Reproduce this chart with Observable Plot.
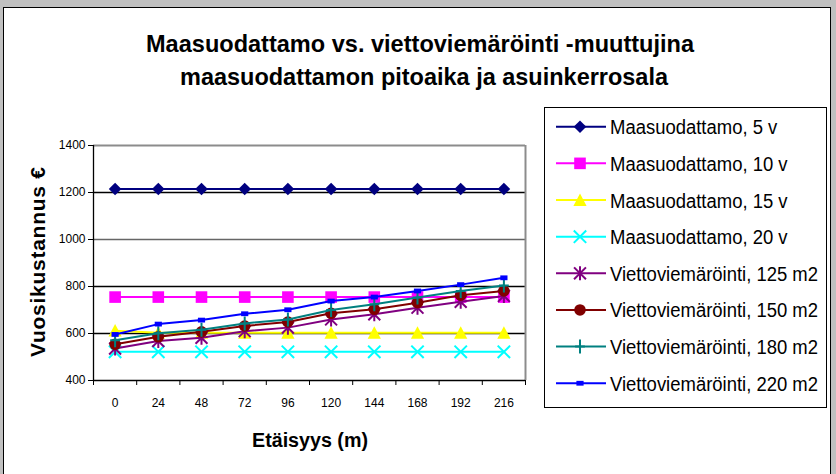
<!DOCTYPE html>
<html><head><meta charset="utf-8">
<script src="https://cdn.jsdelivr.net/npm/d3@7"></script>
<script src="https://cdn.jsdelivr.net/npm/@observablehq/plot@0.6"></script>
<style>
html,body{margin:0;padding:0;background:#c0c0c0;}
#wrap{position:relative;width:836px;height:474px;overflow:hidden;background:#c0c0c0;font-family:"Liberation Sans",Arial,sans-serif;}
#card{position:absolute;left:3px;top:7px;width:828px;height:480px;background:#fff;border:1px solid #000;box-sizing:border-box;}
#chart,#overlay{position:absolute;left:0;top:0;}
</style></head>
<body>
<div id="wrap"><div id="card"></div><div id="chart"></div><svg id="overlay" width="836" height="474"></svg></div>
<script>
const titleLines = ["Maasuodattamo vs. viettoviemäröinti -muuttujina", "maasuodattamon pitoaika ja asuinkerrosala"];
const yTitle = "Vuosikustannus €";
const xTitle = "Etäisyys (m)";
const distances = [0, 24, 48, 72, 96, 120, 144, 168, 192, 216];
const yTicks = [400, 600, 800, 1000, 1200, 1400];
const seriesNames = ["Maasuodattamo, 5 v", "Maasuodattamo, 10 v", "Maasuodattamo, 15 v", "Maasuodattamo, 20 v",
  "Viettoviemäröinti, 125 m2", "Viettoviemäröinti, 150 m2", "Viettoviemäröinti, 180 m2", "Viettoviemäröinti, 220 m2"];
const maa5  = [1215, 1215, 1215, 1215, 1215, 1215, 1215, 1215, 1215, 1215];
const maa10 = [755, 755, 755, 755, 755, 755, 755, 755, 755, 755];
const maa15 = [612, 603, 603, 603, 603, 603, 603, 603, 603, 603];
const maa20 = [522, 522, 522, 522, 522, 522, 522, 522, 522, 522];
const v125  = [536, 568, 582, 610, 625, 660, 682, 710, 735, 760];
const v150  = [554, 586, 607, 632, 649, 686, 703, 731, 763, 781];
const v180  = [571, 601, 616, 643, 660, 700, 724, 753, 781, 804];
const v220  = [596, 640, 657, 684, 701, 738, 755, 781, 808, 837];
const seriesValues = [maa5, maa10, maa15, maa20, v125, v150, v180, v220];

const colors = ["#000080", "#ff00ff", "#ffff00", "#00ffff", "#800080", "#800000", "#008080", "#0000ff"];
const R = size => Math.sqrt(size / Math.PI);
const symbols = {
  diamond: {draw(c, s){const r=R(s); c.moveTo(0,-r); c.lineTo(r,0); c.lineTo(0,r); c.lineTo(-r,0); c.closePath();}},
  square: {draw(c, s){const r=R(s); c.rect(-r,-r,2*r,2*r);}},
  triangle: {draw(c, s){const r=R(s); c.moveTo(0,-r); c.lineTo(r,r*0.9); c.lineTo(-r,r*0.9); c.closePath();}},
  times: {draw(c, s){const r=R(s); c.moveTo(-r,-r); c.lineTo(r,r); c.moveTo(-r,r); c.lineTo(r,-r);}},
  star: {draw(c, s){const r=R(s); c.moveTo(-r*0.85,-r*0.85); c.lineTo(r*0.85,r*0.85); c.moveTo(-r*0.85,r*0.85); c.lineTo(r*0.85,-r*0.85); c.moveTo(0,-r); c.lineTo(0,r);}},
  circle: {draw(c, s){const r=R(s); c.moveTo(r,0); c.arc(0,0,r,0,2*Math.PI);}},
  plus: {draw(c, s){const r=R(s); c.moveTo(0,-r); c.lineTo(0,r); c.moveTo(-r*0.7,0); c.lineTo(r*0.7,0);}},
  dash: {draw(c, s){const r=R(s); c.rect(-r*1.5,-r,r*3,r*2);}}
};
const markers = [
  {symbol: "diamond", r: 6.3, filled: true},
  {symbol: "square", r: 5.8, filled: true},
  {symbol: "triangle", r: 6.6, filled: true},
  {symbol: "times", r: 6.2, filled: false},
  {symbol: "star", r: 7, filled: false},
  {symbol: "circle", r: 5.8, filled: true},
  {symbol: "plus", r: 7, filled: false},
  {symbol: "dash", r: 2.4, filled: true}
];

const rows = seriesNames.flatMap((name, i) => distances.map((d, j) => ({series: name, idx: i, x: d, y: seriesValues[i][j]})));
const step = distances[1] - distances[0];
const xMin = distances[0] - step / 2, xMax = distances[distances.length - 1] + step / 2;
const boundaries = [...distances.map(d => d - step / 2), xMax];

const seriesMarks = seriesNames.flatMap((name, i) => {
  const data = rows.filter(r => r.idx === i);
  const m = markers[i];
  return [
    Plot.line(data, {x: "x", y: "y", stroke: colors[i], strokeWidth: 2}),
    Plot.dot(data, {x: "x", y: "y", symbol: symbols[m.symbol], r: m.r,
      fill: m.filled ? colors[i] : "none", stroke: m.filled ? "none" : colors[i], strokeWidth: 2})
  ];
});

const chart = Plot.plot({
  width: 836, height: 474,
  marginLeft: 93, marginRight: 311, marginTop: 145, marginBottom: 94,
  x: {domain: [xMin, xMax]},
  y: {domain: [yTicks[0], yTicks[yTicks.length - 1]]},
  style: {background: "transparent", fontFamily: "'Liberation Sans', Arial, sans-serif", fontSize: "12px", color: "#000"},
  marks: [
    Plot.ruleY([600, 800, 1200], {stroke: "#000", strokeWidth: 1.3}),
    Plot.ruleY([1000], {stroke: "#666", strokeWidth: 1.3}),
    Plot.ruleY([yTicks[yTicks.length - 1]], {stroke: "#8c8c8c", strokeWidth: 2}),
    Plot.ruleX([xMax], {stroke: "#8c8c8c", strokeWidth: 2}),
    Plot.ruleX([xMin], {stroke: "#000", strokeWidth: 1.3}),
    Plot.ruleY([yTicks[0]], {stroke: "#000", strokeWidth: 1.3}),
    ...seriesMarks,
    Plot.axisY({ticks: yTicks, tickSize: 5, tickPadding: 3, tickFormat: d => String(d), label: null, fontSize: 12}),
    Plot.axisX({ticks: boundaries, tickSize: 5, tickFormat: () => "", label: null}),
    Plot.axisX({ticks: distances, tickSize: 0, tickPadding: 18, tickFormat: d => String(d), label: null, fontSize: 12})
  ]
});
document.getElementById("chart").appendChild(chart);

// Titles and legend
const ov = d3.select("#overlay").style("font-family", "'Liberation Sans', Arial, sans-serif");
ov.append("text").attr("x", 420).attr("y", 52).attr("text-anchor", "middle").attr("font-size", 24).attr("font-weight", "bold")
  .attr("textLength", 548).attr("lengthAdjust", "spacingAndGlyphs").text(titleLines[0]);
ov.append("text").attr("x", 424).attr("y", 85).attr("text-anchor", "middle").attr("font-size", 24).attr("font-weight", "bold")
  .attr("textLength", 488).attr("lengthAdjust", "spacingAndGlyphs").text(titleLines[1]);
ov.append("text").attr("transform", "translate(45,262) rotate(-90)").attr("text-anchor", "middle").attr("font-size", 21).attr("font-weight", "bold")
  .attr("textLength", 190).attr("lengthAdjust", "spacing").text(yTitle);
ov.append("text").attr("x", 310).attr("y", 447).attr("text-anchor", "middle").attr("font-size", 20).attr("font-weight", "bold")
  .attr("textLength", 116).attr("lengthAdjust", "spacingAndGlyphs").text(xTitle);

const lg = ov.append("g");
lg.append("rect").attr("x", 544.5).attr("y", 107.5).attr("width", 282).attr("height", 300).attr("fill", "#fff").attr("stroke", "#000").attr("stroke-width", 1);
seriesNames.forEach((name, i) => {
  const yy = 126.7 + i * 36.65;
  const g = lg.append("g");
  g.append("line").attr("x1", 556).attr("x2", 606).attr("y1", yy).attr("y2", yy).attr("stroke", colors[i]).attr("stroke-width", 2);
  const m = markers[i];
  g.append("path").attr("transform", `translate(580,${yy})`)
    .attr("d", d3.symbol(symbols[m.symbol], Math.PI * m.r * m.r)())
    .attr("fill", m.filled ? colors[i] : "none").attr("stroke", m.filled ? "none" : colors[i]).attr("stroke-width", 2);
  g.append("text").attr("transform", `translate(610,${yy + 7.5}) scale(0.88,1)`).attr("font-size", 21).text(name);
});
</script>
</body></html>
